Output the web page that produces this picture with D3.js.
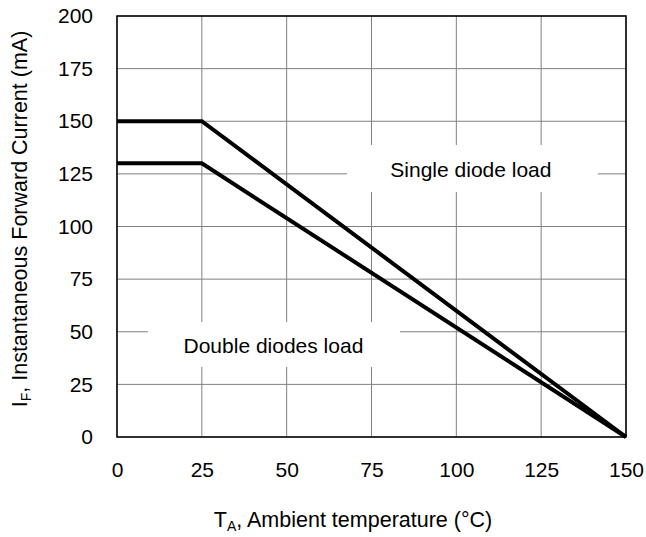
<!DOCTYPE html>
<html>
<head>
<meta charset="utf-8">
<script src="https://cdn.jsdelivr.net/npm/d3@7"></script>
<style>
  body { margin: 0; background: #fff; }
  text { font-family: "Liberation Sans", Arial, sans-serif; }
</style>
</head>
<body>
<div id="chart"></div>
<script>
// data
var temps = [0, 25, 150];
var singleLoad = [150, 150, 0];
var doubleLoad = [130, 130, 0];
var xTicks = [0, 25, 50, 75, 100, 125, 150];
var yTicks = [0, 25, 50, 75, 100, 125, 150, 175, 200];

var margin = { top: 16, right: 20, bottom: 100, left: 117 },
  width = 626 - margin.left,
  height = 437 - margin.top;

var svg = d3.select("#chart")
  .append("svg")
  .attr("width", 646)
  .attr("height", 537)
  .append("g")
  .attr("transform", "translate(" + margin.left + "," + margin.top + ")");

var x = d3.scaleLinear().domain([0, 150]).range([0, width]);
var y = d3.scaleLinear().domain([0, 200]).range([height, 0]);

// grid
svg.append("g")
  .selectAll("line")
  .data(xTicks)
  .enter().append("line")
  .attr("x1", function (d) { return x(d); })
  .attr("x2", function (d) { return x(d); })
  .attr("y1", 0).attr("y2", height)
  .attr("stroke", "#808080").attr("stroke-width", 1);

svg.append("g")
  .selectAll("line")
  .data(yTicks)
  .enter().append("line")
  .attr("y1", function (d) { return y(d); })
  .attr("y2", function (d) { return y(d); })
  .attr("x1", 0).attr("x2", width)
  .attr("stroke", "#808080").attr("stroke-width", 1);

// white boxes behind the labels
function box(x0, x1, y0, y1) {
  svg.append("rect")
    .attr("x", x(x0)).attr("y", y(y0))
    .attr("width", x(x1) - x(x0)).attr("height", y(y1) - y(y0))
    .attr("fill", "#fff");
}
box(67.8, 141.7, 138.7, 116.4);
box(9.1, 83.4, 54.6, 33.3);

// frame
svg.append("rect")
  .attr("width", width).attr("height", height)
  .attr("fill", "none").attr("stroke", "#000").attr("stroke-width", 1.5);

// axes
var xAxis = svg.append("g")
  .attr("transform", "translate(0," + height + ")")
  .call(d3.axisBottom(x).tickValues(xTicks).tickSize(0).tickPadding(25));
var yAxis = svg.append("g")
  .call(d3.axisLeft(y).tickValues(yTicks).tickSize(0).tickPadding(24));
[xAxis, yAxis].forEach(function (a) {
  a.select(".domain").remove();
  a.selectAll("text")
    .style("font-family", "'Liberation Sans', Arial, sans-serif")
    .style("font-size", "21px")
    .attr("fill", "#000");
});

// curves
var line = d3.line()
  .x(function (d) { return x(d[0]); })
  .y(function (d) { return y(d[1]); });

[singleLoad, doubleLoad].forEach(function (s) {
  svg.append("path")
    .datum(temps.map(function (t, i) { return [t, s[i]]; }))
    .attr("d", line)
    .attr("fill", "none")
    .attr("stroke", "#000")
    .attr("stroke-width", 4)
    .attr("stroke-linejoin", "miter");
});

// annotations
svg.append("text")
  .attr("x", x(104.3)).attr("y", y(123.5))
  .attr("text-anchor", "middle")
  .style("font-size", "21px")
  .text("Single diode load");
svg.append("text")
  .attr("x", x(46.1)).attr("y", y(39.9))
  .attr("text-anchor", "middle")
  .style("font-size", "21px")
  .text("Double diodes load");

// axis titles
var xt = svg.append("text")
  .attr("x", 236).attr("y", 511)
  .attr("text-anchor", "middle")
  .style("font-size", "21.5px");
xt.append("tspan").text("T");
xt.append("tspan").attr("dy", 4).style("font-size", "14px").text("A");
xt.append("tspan").attr("dy", -4).text(", Ambient temperature (°C)");

var yt = svg.append("text")
  .attr("transform", "translate(-90,203) rotate(-90)")
  .attr("text-anchor", "middle")
  .style("font-size", "21.5px");
yt.append("tspan").text("I");
yt.append("tspan").attr("dy", 4).style("font-size", "14px").text("F");
yt.append("tspan").attr("dy", -4).text(", Instantaneous Forward Current (mA)");
</script>
</body>
</html>
